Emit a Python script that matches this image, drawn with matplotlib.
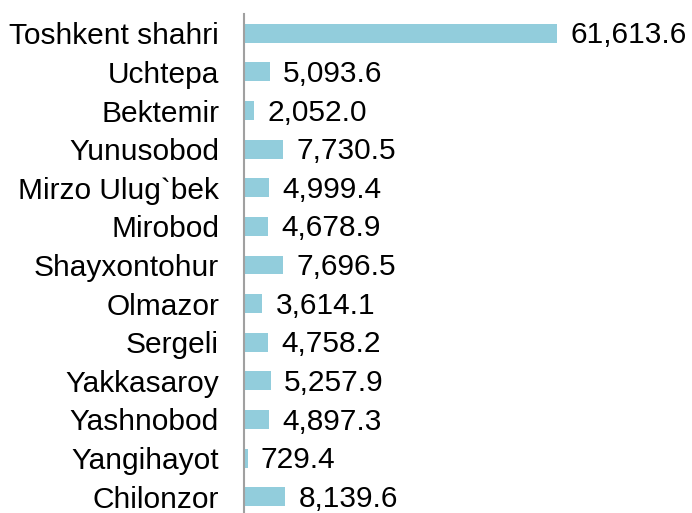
import matplotlib.pyplot as plt
import numpy as np

districts = ['Toshkent shahri', 'Uchtepa', 'Bektemir', 'Yunusobod', 'Mirzo Ulug`bek',
             'Mirobod', 'Shayxontohur', 'Olmazor', 'Sergeli', 'Yakkasaroy',
             'Yashnobod', 'Yangihayot', 'Chilonzor']
values = [61613.6, 5093.6, 2052.0, 7730.5, 4999.4, 4678.9, 7696.5,
          3614.1, 4758.2, 5257.9, 4897.3, 729.4, 8139.6]

plt.rcParams['font.family'] = ['Liberation Sans', 'DejaVu Sans']

fig = plt.figure(figsize=(6.92, 5.13), dpi=100)
ax = fig.add_axes([244 / 692, -3 / 513, 1 - 244 / 692, 502 / 513])

y = np.arange(len(districts))
ax.barh(y, values, height=0.49, color='#92CDDC', left=0)
ax.set_ylim(len(districts) - 0.5, -0.5)
ax.set_xlim(0, max(values) * 448 / 313)

for yi, v in zip(y, values):
    ax.annotate(f'{v:,.1f}', (v, yi), xytext=(9.5, -1.5), textcoords='offset points',
                va='center', ha='left', fontsize=21.5)

ax.set_yticks(y)
ax.set_yticklabels(districts, fontsize=21.5)
ax.tick_params(axis='y', length=0, pad=18)
ax.set_xticks([])
for s in ['top', 'right', 'bottom']:
    ax.spines[s].set_visible(False)
ax.spines['left'].set_color('#A0A0A0')
ax.spines['left'].set_linewidth(1.5)

fig.savefig('out.png', dpi=100)
